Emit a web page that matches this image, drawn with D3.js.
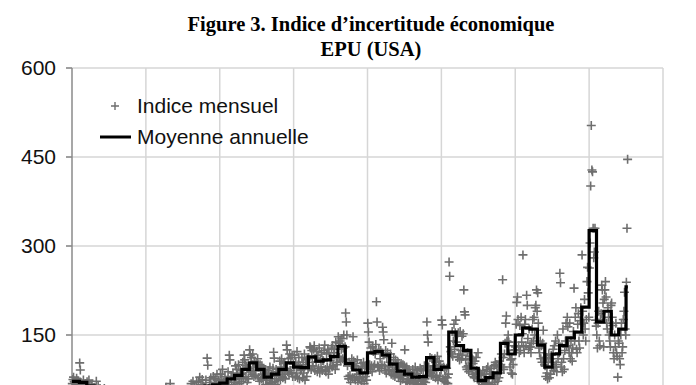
<!DOCTYPE html>
<html>
<head>
<meta charset="utf-8">
<script src="https://cdn.jsdelivr.net/npm/d3@7"></script>
<style>
  body { margin: 0; background: #fff; }
  svg { display: block; overflow: hidden; }
</style>
</head>
<body>
<script>
// chart size (the bottom of the plot runs past the window, as in the source)
var w = 696;
var h = 385;

// monthly EPU index, 12 values per year, one array per decade
var epu1950s = [
  68, 75, 79, 72, 70, 64, 71, 77, 66, 70, 73, 69,
  103, 91, 70, 62, 66, 60, 74, 65, 58, 63, 68, 60,
  71, 66, 58, 74, 62, 60, 55, 64, 67, 58, 61, 56,
  62, 58, 60, 72, 55, 57, 63, 52, 58, 60, 56, 54,
  55, 50, 58, 52, 60, 53, 49, 56, 51, 57, 54, 50,
  48, 52, 46, 55, 50, 44, 51, 47, 53, 49, 45, 52,
  46, 50, 44, 52, 47, 43, 49, 45, 51, 48, 44, 50,
  49, 53, 47, 51, 46, 55, 50, 48, 52, 54, 47, 49,
  53, 50, 56, 49, 54, 51, 58, 52, 48, 55, 50, 53,
  47, 50, 45, 52, 46, 49, 44, 51, 48, 46, 50, 47
];
var epu1960s = [
  48, 52, 46, 50, 47, 53, 49, 51, 55, 50, 48, 46,
  55, 52, 49, 54, 50, 53, 51, 56, 48, 52, 50, 54,
  52, 55, 50, 57, 53, 51, 54, 58, 62, 55, 52, 50,
  50, 48, 52, 68, 47, 51, 49, 46, 53, 50, 48, 52,
  47, 49, 46, 51, 48, 45, 50, 47, 49, 52, 46, 48,
  48, 51, 47, 53, 49, 50, 52, 48, 51, 49, 53, 50,
  52, 68, 58, 48, 72, 56, 45, 62, 57, 50, 70, 58,
  57, 72, 52, 79, 48, 66, 58, 75, 50, 64, 55, 62,
  63, 74, 52, 111, 99, 60, 48, 70, 56, 78, 50, 61,
  62, 80, 54, 70, 76, 52, 67, 84, 58, 65, 74, 50
];
var epu1970s = [
  66, 84, 58, 75, 92, 54, 71, 60, 80, 69, 56, 70,
  72, 88, 62, 116, 108, 58, 80, 66, 60, 86, 64, 75,
  78, 98, 70, 92, 82, 64, 100, 76, 68, 90, 84, 72,
  86, 104, 78, 116, 108, 99, 80, 96, 70, 94, 76, 93,
  125, 116, 88, 112, 84, 118, 96, 80, 106, 90, 82, 99,
  104, 110, 78, 96, 72, 100, 90, 76, 98, 84, 74, 91,
  80, 92, 66, 86, 74, 64, 90, 84, 68, 96, 70, 80,
  82, 70, 94, 121, 111, 72, 66, 92, 76, 88, 64, 81,
  88, 106, 74, 96, 110, 80, 78, 102, 84, 104, 76, 93,
  133, 125, 88, 110, 84, 118, 90, 112, 86, 116, 80, 101
];
var epu1980s = [
  96, 116, 80, 104, 86, 122, 78, 100, 112, 76, 98, 90,
  92, 112, 78, 104, 86, 118, 74, 100, 108, 80, 110, 93,
  112, 96, 130, 128, 92, 124, 104, 98, 126, 132, 90, 111,
  104, 122, 88, 116, 94, 128, 86, 110, 96, 120, 90, 107,
  106, 124, 133, 92, 88, 118, 96, 126, 84, 120, 94, 107,
  110, 128, 96, 132, 98, 120, 126, 92, 138, 104, 100, 114,
  147, 136, 112, 140, 106, 126, 144, 110, 128, 150, 108, 130,
  187, 172, 150, 98, 80, 76, 104, 82, 70, 100, 110, 78,
  147, 106, 78, 98, 74, 96, 80, 108, 70, 92, 84, 76,
  86, 102, 72, 96, 78, 104, 68, 94, 80, 98, 74, 86
];
var epu1990s = [
  170, 155, 138, 100, 92, 128, 98, 88, 130, 122, 96, 100,
  118, 134, 206, 172, 98, 96, 126, 90, 110, 124, 94, 100,
  163, 155, 142, 98, 90, 124, 86, 112, 120, 96, 92, 90,
  104, 118, 84, 136, 96, 82, 112, 88, 80, 108, 100, 86,
  92, 104, 78, 96, 84, 72, 102, 82, 76, 100, 80, 98,
  125, 90, 70, 96, 72, 88, 76, 92, 68, 86, 74, 80,
  80, 92, 70, 86, 68, 96, 72, 84, 66, 90, 74, 79,
  78, 94, 68, 92, 74, 66, 90, 72, 98, 76, 70, 82,
  172, 150, 138, 96, 86, 112, 90, 82, 110, 88, 80, 98,
  92, 110, 78, 104, 82, 114, 74, 96, 106, 80, 100, 91
];
var epu2000s = [
  175, 167, 76, 96, 72, 92, 80, 70, 94, 78, 68, 84,
  273, 249, 130, 122, 118, 156, 114, 140, 168, 126, 154, 175,
  138, 150, 112, 154, 118, 108, 156, 124, 110, 148, 116, 152,
  226, 189, 184, 108, 96, 92, 120, 98, 88, 114, 94, 110,
  96, 110, 84, 102, 80, 78, 106, 86, 112, 90, 76, 120,
  72, 64, 86, 60, 82, 70, 62, 90, 74, 66, 84, 60,
  76, 92, 64, 96, 70, 68, 88, 62, 84, 94, 66, 80,
  82, 98, 70, 104, 76, 100, 86, 72, 96, 78, 106, 86,
  100, 118, 96, 243, 112, 92, 118, 136, 170, 182, 140, 138,
  150, 138, 118, 96, 108, 86, 110, 84, 100, 124, 132, 125
];
var epu2010s = [
  130, 168, 205, 214, 176, 132, 120, 166, 124, 180, 138, 152,
  285, 130, 120, 168, 176, 132, 217, 200, 144, 126, 160, 130,
  130, 120, 136, 160, 176, 140, 180, 150, 196, 200, 226, 190,
  221, 170, 128, 120, 140, 110, 132, 104, 136, 158, 112, 100,
  98, 80, 112, 86, 76, 104, 118, 78, 110, 84, 116, 96,
  104, 126, 90, 132, 96, 140, 100, 88, 150, 110, 136, 120,
  254, 238, 96, 104, 88, 160, 110, 92, 124, 140, 170, 130,
  180, 164, 132, 120, 170, 110, 140, 120, 106, 128, 156, 229,
  140, 180, 196, 126, 120, 168, 186, 140, 128, 174, 196, 168,
  285, 190, 150, 170, 210, 160, 140, 176, 240, 264, 221, 180
];
var epu2020s = [
  263, 305, 401, 503, 428, 425, 330, 280, 290, 330, 175, 165,
  150, 128, 170, 190, 140, 132, 176, 186, 234, 226, 204, 130,
  210, 226, 240, 214, 170, 160, 196, 180, 150, 140, 130, 200,
  204, 180, 166, 120, 110, 150, 130, 170, 120, 114, 79, 140,
  136, 110, 100, 150, 170, 120, 130, 176, 190, 222, 160, 150,
  239, 330, 446
];

// annual average, 1950 to 2025
var annualMean = [
  72, 70, 64, 60, 55, 50, 48, 50, 52, 48,
  50, 52, 54, 50, 48, 50, 56, 60, 64, 66,
  69, 76, 82, 92, 103, 92, 79, 84, 92, 103,
  96, 95, 113, 106, 108, 114, 131, 102, 91, 86,
  120, 122, 116, 101, 89, 84, 79, 80, 112, 92,
  96, 155, 132, 124, 94, 73, 78, 86, 136, 118,
  150, 162, 160, 133, 96, 118, 132, 145, 155, 197,
  326, 172, 190, 150, 160, 231
];

var firstYear = 1950;
var yTicks = [150, 300, 450, 600];
var xGrid = [1950, 1960, 1970, 1980, 1990, 2000, 2010, 2020, 2030];

// month points
var monthly = [].concat(epu1950s, epu1960s, epu1970s, epu1980s, epu1990s, epu2000s, epu2010s, epu2020s)
  .map(function(v, i) {
    return { t: firstYear + (i + 0.5) / 12, v: v };
  });

// annual mean as steps (last year is partial)
var lastT = firstYear + monthly.length / 12;
var steps = [];
annualMean.forEach(function(v, i) {
  var y0 = firstYear + i;
  steps.push({ t: y0, v: v });
  steps.push({ t: Math.min(y0 + 1, lastT), v: v });
});

var x = d3.scaleLinear().domain([1950, 2030]).range([72, 663]);
var y = d3.scaleLinear().domain([0, 600]).range([424, 68]);

var svg = d3.select("body")
  .append("svg")
  .attr("width", w)
  .attr("height", h);

// title
svg.append("text")
  .attr("x", 371).attr("y", 31)
  .attr("text-anchor", "middle")
  .style("font-family", "'Liberation Serif', 'Times New Roman', serif")
  .style("font-weight", "bold")
  .style("font-size", "20.5px")
  .text("Figure 3. Indice d\u2019incertitude économique");
svg.append("text")
  .attr("x", 371).attr("y", 56)
  .attr("text-anchor", "middle")
  .style("font-family", "'Liberation Serif', 'Times New Roman', serif")
  .style("font-weight", "bold")
  .style("font-size", "20.5px")
  .text("EPU (USA)");

// horizontal grid (0 line lies below the window)
svg.selectAll("line.hgrid")
  .data([0].concat(yTicks))
  .enter()
  .append("line")
  .attr("class", "hgrid")
  .attr("x1", 66).attr("x2", x(2030))
  .attr("y1", function(d) { return y(d); })
  .attr("y2", function(d) { return y(d); })
  .attr("stroke", "#d6d6d6")
  .attr("stroke-width", 1.5);

// vertical grid
svg.selectAll("line.vgrid")
  .data(xGrid.slice(1))
  .enter()
  .append("line")
  .attr("class", "vgrid")
  .attr("x1", function(d) { return x(d); })
  .attr("x2", function(d) { return x(d); })
  .attr("y1", y(600)).attr("y2", y(0))
  .attr("stroke", "#d6d6d6")
  .attr("stroke-width", 1.5);

// y axis line + ticks
svg.append("line")
  .attr("x1", x(1950)).attr("x2", x(1950))
  .attr("y1", y(600)).attr("y2", y(0))
  .attr("stroke", "#8a8a8a")
  .attr("stroke-width", 1.5);
svg.selectAll("line.ytick")
  .data(yTicks)
  .enter()
  .append("line")
  .attr("class", "ytick")
  .attr("x1", 66).attr("x2", x(1950))
  .attr("y1", function(d) { return y(d); })
  .attr("y2", function(d) { return y(d); })
  .attr("stroke", "#8a8a8a")
  .attr("stroke-width", 1.5);

// y labels
svg.selectAll("text.ylab")
  .data(yTicks)
  .enter()
  .append("text")
  .attr("class", "ylab")
  .attr("x", 56)
  .attr("y", function(d) { return y(d) + 7; })
  .attr("text-anchor", "end")
  .style("font-family", "'Liberation Sans', Arial, sans-serif")
  .style("font-size", "21px")
  .attr("fill", "#111")
  .text(function(d) { return d; });

// monthly crosses
var cross = "M-4.5,0H4.5M0,-4.5V4.5";
svg.selectAll("path.pt")
  .data(monthly)
  .enter()
  .append("path")
  .attr("class", "pt")
  .attr("d", cross)
  .attr("transform", function(d) { return "translate(" + x(d.t) + "," + y(d.v) + ")"; })
  .attr("fill", "none")
  .attr("stroke", "#6e6e6e")
  .attr("stroke-width", 1.6);

// annual average line
var line = d3.line()
  .x(function(d) { return x(d.t); })
  .y(function(d) { return y(d.v); });
svg.append("path")
  .datum(steps)
  .attr("d", line)
  .attr("fill", "none")
  .attr("stroke", "#000")
  .attr("stroke-width", 3.2)
  .attr("stroke-linejoin", "miter");

// legend
svg.append("path")
  .attr("d", "M-4,0H4M0,-4V4")
  .attr("transform", "translate(115,106)")
  .attr("fill", "none")
  .attr("stroke", "#6e6e6e")
  .attr("stroke-width", 1.4);
svg.append("text")
  .attr("x", 137).attr("y", 113)
  .style("font-family", "'Liberation Sans', Arial, sans-serif")
  .style("font-size", "21px")
  .attr("fill", "#111")
  .text("Indice mensuel");
svg.append("line")
  .attr("x1", 100).attr("x2", 131)
  .attr("y1", 137).attr("y2", 137)
  .attr("stroke", "#000")
  .attr("stroke-width", 3);
svg.append("text")
  .attr("x", 137).attr("y", 144)
  .style("font-family", "'Liberation Sans', Arial, sans-serif")
  .style("font-size", "21px")
  .attr("fill", "#111")
  .text("Moyenne annuelle");
</script>
</body>
</html>
